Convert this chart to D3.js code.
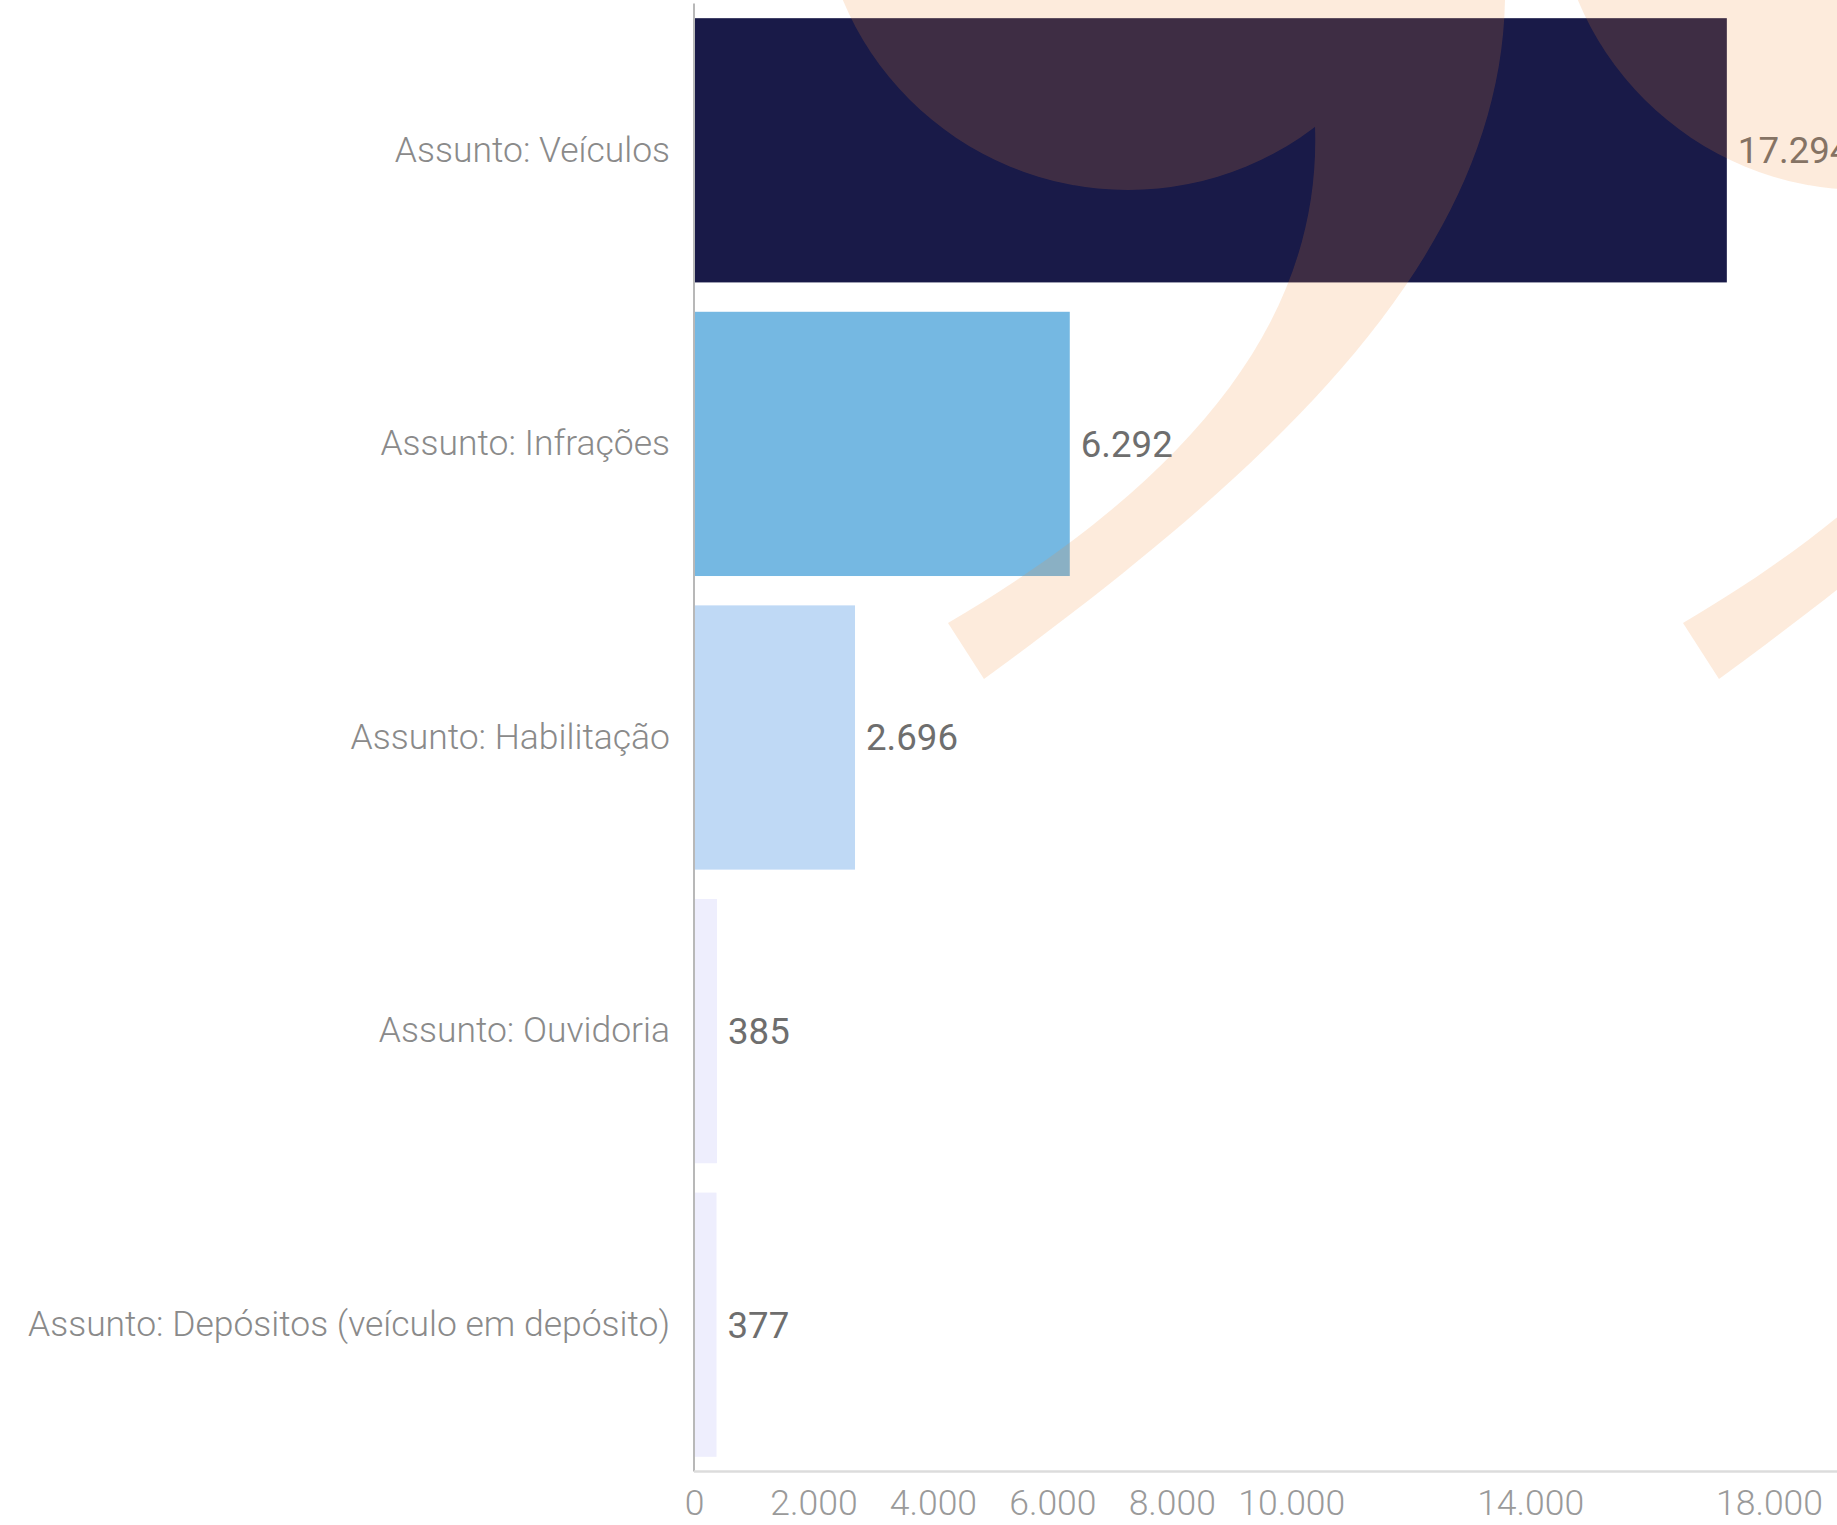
<!DOCTYPE html>
<html>
<head>
<meta charset="utf-8">
<script src="https://cdn.jsdelivr.net/npm/d3@7"></script>
<style>
  html, body { margin: 0; padding: 0; background: #ffffff; overflow: hidden; }
  svg { display: block; }
</style>
</head>
<body>
<svg id="chart" width="1837" height="1525"></svg>
<script>
// ---- data ----
const categories = [
  "Assunto: Veículos",
  "Assunto: Infrações",
  "Assunto: Habilitação",
  "Assunto: Ouvidoria",
  "Assunto: Depósitos (veículo em depósito)"
];
const values = [17294, 6292, 2696, 385, 377];
const barColors = ["#191a48", "#75b8e2", "#bfd9f5", "#eeeefd", "#eeeefd"];
const xTickValues = [0, 2000, 4000, 6000, 8000, 10000, 14000, 18000];
const xMax = 18000;

// ---- layout ----
const W = 1837, H = 1525;
const x0 = 694, xEnd = 1769;
const yTop = 3.5, yBottom = 1471.5;

const svg = d3.select("#chart");
const locale = d3.formatLocale({ decimal: ",", thousands: ".", grouping: [3], currency: ["R$", ""] });
const fmt = locale.format(",d");

const x = d3.scaleLinear().domain([0, xMax]).range([x0, xEnd]);
const y = d3.scaleBand().domain(categories).range([yTop, yBottom])
  .paddingInner(0.1).paddingOuter(0.05);

// font fitting helper (match reference text widths)
const measurer = svg.append("text").attr("x", -1000).attr("y", -1000);
function fitSize(text, target, family, weight) {
  measurer.attr("font-family", family).attr("font-weight", weight)
    .attr("font-size", 100).text(text);
  const w = measurer.node().getComputedTextLength();
  return 100 * target / w;
}
const lightFam = "Roboto, 'Open Sans', 'Noto Sans', sans-serif";
const yLabelSize = fitSize(categories[4], 642, lightFam, 300);
const tickSize = Math.min(35.5, fitSize("18.000", 113, lightFam, 300));
const valSize = fitSize("6.292", 92, lightFam, 400);
measurer.remove();

const data = categories.map((c, i) => ({ cat: c, val: values[i], color: barColors[i] }));

// bars
svg.append("g").selectAll("rect").data(data).join("rect")
  .attr("x", x(0))
  .attr("y", d => y(d.cat))
  .attr("width", d => x(d.val) - x(0))
  .attr("height", y.bandwidth())
  .attr("fill", d => d.color);

// y axis
const yAxis = svg.append("g").attr("transform", `translate(${x0},0)`)
  .call(d3.axisLeft(y).tickSize(0).tickPadding(24));
yAxis.select(".domain").attr("stroke", "#b8b8b8").attr("stroke-width", 2)
  .attr("d", `M0,${yTop}V${yBottom}`);
yAxis.selectAll("text")
  .attr("font-family", lightFam).attr("font-weight", 300)
  .attr("font-size", yLabelSize).attr("fill", "#8a8a8a");

// x axis
const xAxis = svg.append("g").attr("transform", `translate(0,${yBottom})`)
  .call(d3.axisBottom(x).tickValues(xTickValues).tickFormat(fmt).tickSize(0));
xAxis.select(".domain").attr("stroke", "#dcdcdc").attr("stroke-width", 2.5)
  .attr("d", `M${x0},0H${W}`);
xAxis.selectAll("text")
  .attr("y", 43.5).attr("dy", 0)
  .attr("font-family", lightFam).attr("font-weight", 300)
  .attr("font-size", tickSize).attr("fill", "#9a9a9a");

// value labels
svg.append("g").selectAll("text").data(data).join("text")
  .attr("x", d => x(d.val) + 11)
  .attr("y", d => y(d.cat) + y.bandwidth() / 2)
  .attr("dy", "0.35em")
  .attr("font-family", lightFam).attr("font-weight", 400)
  .attr("font-size", valSize).attr("fill", "#6e6e6e")
  .text(d => fmt(d.val));

// decorative watermark (two closing-quote shapes), drawn on top with low opacity
const quoteOffsets = [0, 735];
const deco = svg.append("g").attr("opacity", 0.175).attr("fill", "#f38c37");
quoteOffsets.forEach(dx => {
  const g = deco.append("g").attr("transform", `translate(${dx},0)`);
  g.append("circle").attr("cx", 1128).attr("cy", -119).attr("r", 309);
  const p = d3.path();
  p.moveTo(1315, 126);
  p.bezierCurveTo(1322, 320, 1190, 480, 948, 623);
  p.lineTo(984, 679);
  p.bezierCurveTo(1270, 470, 1500, 260, 1505, 0);
  p.lineTo(1515, -140);
  p.lineTo(1250, -140);
  p.closePath();
  g.append("path").attr("d", p.toString());
});
</script>
</body>
</html>
